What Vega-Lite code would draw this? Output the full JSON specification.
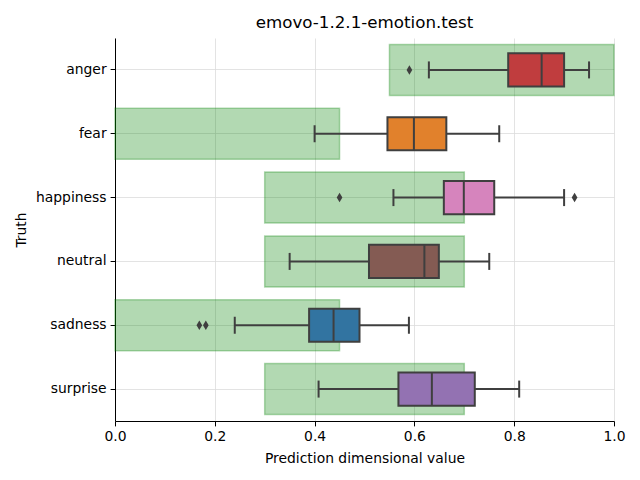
{
  "$schema": "https://vega.github.io/schema/vega-lite/v6.json",
  "width": 499,
  "height": 383,
  "autosize": {"type": "none"},
  "padding": {"left": 115, "top": 38, "right": 26, "bottom": 59},
  "background": "white",
  "title": {"text": "emovo-1.2.1-emotion.test", "font": "DejaVu Sans", "fontSize": 16.7, "fontWeight": "normal", "color": "black", "offset": 6},
  "config": {
    "view": {"stroke": null},
    "axis": {"labelFont": "DejaVu Sans", "titleFont": "DejaVu Sans", "labelFontSize": 13.9, "titleFontSize": 13.9, "titleFontWeight": "normal", "labelColor": "black", "titleColor": "black", "domainColor": "black", "tickColor": "black", "gridColor": "#dcdcdc", "gridWidth": 0.8, "tickSize": 4.9}
  },
  "datasets": {
    "stats": [
      {"emotion": "anger", "lower": 0.629, "q1": 0.788, "median": 0.855, "q3": 0.900, "upper": 0.950, "rlo": 0.55, "rhi": 1.0},
      {"emotion": "fear", "lower": 0.400, "q1": 0.546, "median": 0.599, "q3": 0.664, "upper": 0.770, "rlo": 0.0, "rhi": 0.45},
      {"emotion": "happiness", "lower": 0.558, "q1": 0.659, "median": 0.699, "q3": 0.760, "upper": 0.900, "rlo": 0.3, "rhi": 0.7},
      {"emotion": "neutral", "lower": 0.350, "q1": 0.509, "median": 0.620, "q3": 0.649, "upper": 0.750, "rlo": 0.3, "rhi": 0.7},
      {"emotion": "sadness", "lower": 0.240, "q1": 0.389, "median": 0.438, "q3": 0.490, "upper": 0.589, "rlo": 0.0, "rhi": 0.45},
      {"emotion": "surprise", "lower": 0.408, "q1": 0.568, "median": 0.635, "q3": 0.721, "upper": 0.810, "rlo": 0.3, "rhi": 0.7}
    ],
    "outliers": [
      {"emotion": "anger", "value": 0.590},
      {"emotion": "happiness", "value": 0.450},
      {"emotion": "happiness", "value": 0.921},
      {"emotion": "sadness", "value": 0.169},
      {"emotion": "sadness", "value": 0.182}
    ]
  },
  "encoding": {
    "y": {
      "field": "emotion", "type": "nominal", "title": "Truth",
      "sort": ["anger", "fear", "happiness", "neutral", "sadness", "surprise"],
      "scale": {"domain": ["anger", "fear", "happiness", "neutral", "sadness", "surprise"], "paddingInner": 0, "paddingOuter": 0},
      "axis": {"grid": true, "bandPosition": 0.5, "labelPadding": 4, "titlePadding": 7}
    }
  },
  "layer": [
    {
      "data": {"name": "stats"},
      "mark": {"type": "bar", "height": {"band": 0.8}, "fill": "green", "fillOpacity": 0.3, "stroke": "green", "strokeOpacity": 0.3, "strokeWidth": 1.5},
      "encoding": {
        "x": {"field": "rlo", "type": "quantitative", "title": "Prediction dimensional value", "scale": {"domain": [0, 1], "nice": false, "zero": false}, "axis": {"values": [0, 0.2, 0.4, 0.6, 0.8, 1.0], "format": ".1f", "grid": true, "labelPadding": 4, "titlePadding": 8, "labelFlush": false}},
        "x2": {"field": "rhi"}
      }
    },
    {
      "data": {"name": "stats"},
      "mark": {"type": "rule", "color": "#3f3f3f", "strokeWidth": 2},
      "encoding": {
        "x": {"field": "lower", "type": "quantitative"},
        "x2": {"field": "upper"}
      }
    },
    {
      "data": {"name": "stats"},
      "mark": {"type": "bar", "height": {"band": 0.52}, "stroke": "#3f3f3f", "strokeWidth": 2},
      "encoding": {
        "x": {"field": "q1", "type": "quantitative"},
        "x2": {"field": "q3"},
        "fill": {"field": "emotion", "type": "nominal", "legend": null,
          "scale": {"domain": ["anger", "fear", "happiness", "neutral", "sadness", "surprise"], "range": ["#c03d3e", "#e1812c", "#d684bd", "#845b53", "#3274a1", "#9372b2"]}}
      }
    },
    {
      "data": {"name": "stats"},
      "mark": {"type": "tick", "color": "#3f3f3f", "size": 33, "thickness": 2, "opacity": 1},
      "encoding": {"x": {"field": "median", "type": "quantitative"}}
    },
    {
      "data": {"name": "stats"},
      "mark": {"type": "tick", "color": "#3f3f3f", "size": 17, "thickness": 2, "opacity": 1},
      "encoding": {"x": {"field": "lower", "type": "quantitative"}}
    },
    {
      "data": {"name": "stats"},
      "mark": {"type": "tick", "color": "#3f3f3f", "size": 17, "thickness": 2, "opacity": 1},
      "encoding": {"x": {"field": "upper", "type": "quantitative"}}
    },
    {
      "data": {"name": "outliers"},
      "mark": {"type": "point", "shape": "M0,-1L0.6,0L0,1L-0.6,0Z", "filled": true, "color": "#3f3f3f", "opacity": 1, "size": 90},
      "encoding": {"x": {"field": "value", "type": "quantitative"}}
    }
  ]
}
